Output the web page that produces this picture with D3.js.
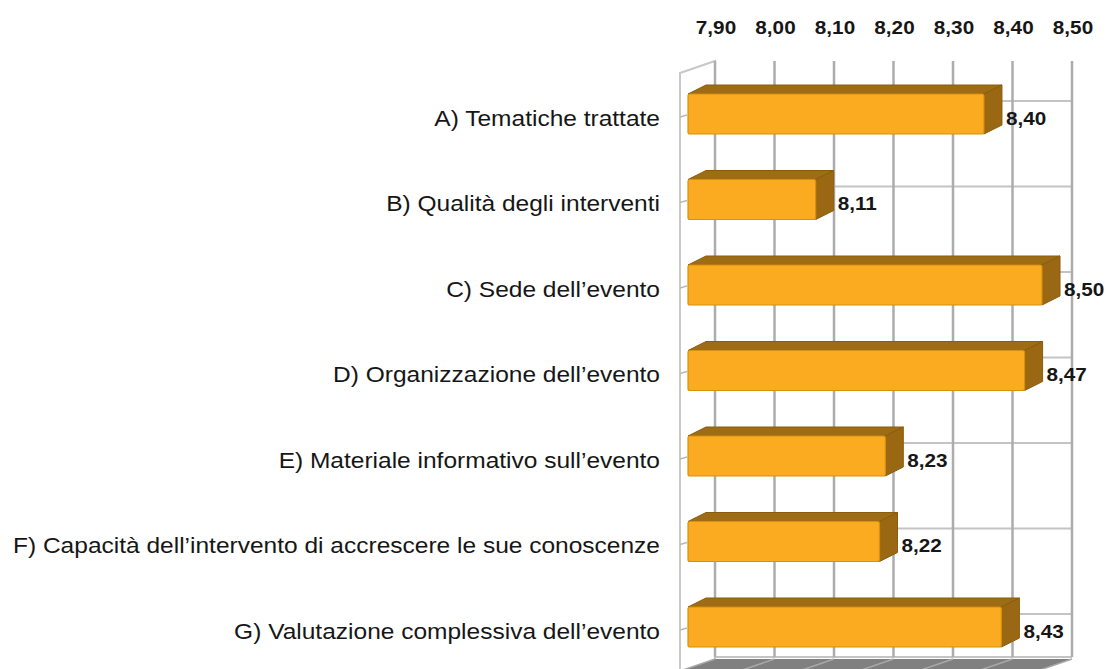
<!DOCTYPE html>
<html>
<head>
<meta charset="utf-8">
<script src="https://cdn.jsdelivr.net/npm/d3@7"></script>
<style>
  body { margin: 0; background: #fff; }
  svg { display: block; }
  text { font-family: "Liberation Sans", Arial, sans-serif; fill: #161616; }
</style>
</head>
<body>
<svg id="chart" width="1107" height="669"></svg>
<script>
var categories = [
  "A) Tematiche trattate",
  "B) Qualità degli interventi",
  "C) Sede dell\u2019evento",
  "D) Organizzazione dell\u2019evento",
  "E) Materiale informativo sull\u2019evento",
  "F) Capacità dell\u2019intervento di accrescere le sue conoscenze",
  "G) Valutazione complessiva dell\u2019evento"
];
var values = [8.40, 8.11, 8.50, 8.47, 8.23, 8.22, 8.43];
var ticks = [7.90, 8.00, 8.10, 8.20, 8.30, 8.40, 8.50];

var svg = d3.select("#chart"),
    width = +svg.attr("width"),
    height = +svg.attr("height");

var fmt = function(v) { return d3.format(".2f")(v).replace(".", ","); };
var stretch = 1.09; // the text in the original is a bit wide

// back wall scale and front (bar) scale of the 3d box
var xBack = d3.scaleLinear().domain([7.9, 8.5]).range([715, 1072]);
var xFront = d3.scaleLinear().domain([7.89, 8.5]).range([688, 1042]);
var y = d3.scalePoint().domain(categories).range([117, 630]);

var wallTop = 61, wallBottom = 657;
var depth = [-35, 12];   // from back wall to front
var bdx = 18, bdy = -9;  // bar depth

// left wall
svg.append("polygon")
  .attr("points", [[715, wallTop], [715, height + 20], [715 + depth[0], height + 20 + depth[1]], [715 + depth[0], wallTop + depth[1]]].join(" "))
  .attr("fill", "#fff")
  .attr("stroke", "#c8c8c8")
  .attr("stroke-width", 2);

// floor
svg.append("polygon")
  .attr("points", [[715, wallBottom + 2], [1072, wallBottom + 2], [1072 + depth[0], wallBottom + 2 + depth[1]], [715 + depth[0], wallBottom + 2 + depth[1]]].join(" "))
  .attr("fill", "#808080");

svg.append("g").selectAll("line")
  .data(ticks)
  .enter().append("line")
  .attr("x1", function(d) { return xBack(d); })
  .attr("y1", wallBottom + 2)
  .attr("x2", function(d) { return xBack(d) + depth[0]; })
  .attr("y2", wallBottom + 2 + depth[1])
  .attr("stroke", "#a8a8a8")
  .attr("stroke-width", 1.5);

// back wall horizontal lines
svg.append("g").selectAll("line")
  .data(categories)
  .enter().append("line")
  .attr("x1", 715).attr("x2", 1072)
  .attr("y1", function(d) { return y(d) - 16; })
  .attr("y2", function(d) { return y(d) - 16; })
  .attr("stroke", "#c4c4c4")
  .attr("stroke-width", 2);

svg.append("line")
  .attr("x1", 715).attr("x2", 1072)
  .attr("y1", wallBottom).attr("y2", wallBottom)
  .attr("stroke", "#c4c4c4")
  .attr("stroke-width", 2);

// back wall vertical gridlines
svg.append("g").selectAll("line")
  .data(ticks)
  .enter().append("line")
  .attr("x1", function(d) { return xBack(d); })
  .attr("x2", function(d) { return xBack(d); })
  .attr("y1", wallTop).attr("y2", wallBottom)
  .attr("stroke", "#acacac")
  .attr("stroke-width", 2.5);

// left wall ticks
svg.append("g").selectAll("line")
  .data(categories)
  .enter().append("line")
  .attr("x1", 680).attr("x2", 687)
  .attr("y1", function(d) { return y(d); })
  .attr("y2", function(d) { return y(d) - 2; })
  .attr("stroke", "#b8b8b8")
  .attr("stroke-width", 1.5);

// bars
var bars = svg.append("g").selectAll("g")
  .data(categories)
  .enter().append("g");

bars.each(function(d, i) {
  var g = d3.select(this),
      x0 = xFront.range()[0],
      x1 = xFront(values[i]),
      top = y(d) - 23,
      h = 40;
  g.append("polygon")
    .attr("points", [[x0, top], [x0 + bdx, top + bdy], [x1 + bdx, top + bdy], [x1, top]].join(" "))
    .attr("fill", "#9d6c14")
    .attr("stroke", "#8a5c0e")
    .attr("stroke-width", 1);
  g.append("polygon")
    .attr("points", [[x1, top], [x1 + bdx, top + bdy], [x1 + bdx, top + bdy + h], [x1, top + h]].join(" "))
    .attr("fill", "#9a6812")
    .attr("stroke", "#8a5c0e")
    .attr("stroke-width", 1);
  g.append("rect")
    .attr("x", x0).attr("y", top)
    .attr("width", x1 - x0).attr("height", h)
    .attr("rx", 2)
    .attr("fill", "#fbab1f")
    .attr("stroke", "#d8900f")
    .attr("stroke-width", 1.2);
  g.append("text")
    .attr("transform", "translate(" + (x1 + bdx + 4) + "," + (y(d) + 1) + ") scale(" + stretch + ",1)")
    .attr("dy", "0.35em")
    .attr("font-size", "19px")
    .attr("font-weight", "bold")
    .text(fmt(values[i]));
});

// category labels
svg.append("g").selectAll("text")
  .data(categories)
  .enter().append("text")
  .attr("transform", function(d) { return "translate(660," + (y(d) + 1) + ") scale(" + stretch + ",1)"; })
  .attr("dy", "0.35em")
  .attr("text-anchor", "end")
  .attr("font-size", "22.5px")
  .text(function(d) { return d; });

// top axis labels
svg.append("g").selectAll("text")
  .data(ticks)
  .enter().append("text")
  .attr("transform", function(d) { return "translate(" + (xBack(d) + 1) + ",34) scale(" + stretch + ",1)"; })
  .attr("text-anchor", "middle")
  .attr("font-size", "19px")
  .attr("font-weight", "bold")
  .text(fmt);
</script>
</body>
</html>
